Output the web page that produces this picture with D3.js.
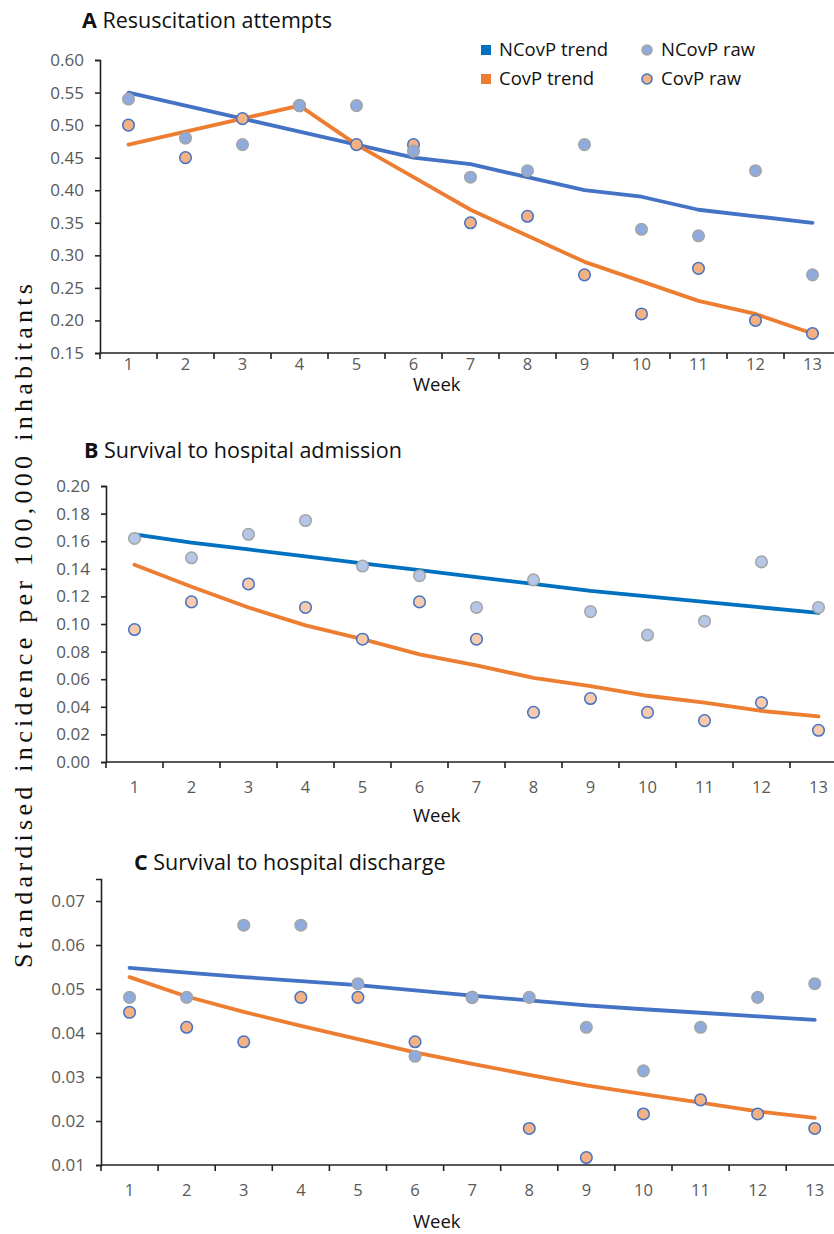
<!DOCTYPE html>
<html>
<head>
<meta charset="utf-8">
<script src="https://cdn.jsdelivr.net/npm/d3@7"></script>
<style>
  body { margin: 0; background: #fff; }
  svg { display: block; }
  text { font-family: "Open Sans", sans-serif; }
</style>
</head>
<body>
<svg id="chart" width="834" height="1234"></svg>
<script>
var weeks = [1, 2, 3, 4, 5, 6, 7, 8, 9, 10, 11, 12, 13];

// A Resuscitation attempts
var aNcovTrend = [0.55, 0.53, 0.51, 0.49, 0.47, 0.45, 0.44, 0.42, 0.40, 0.39, 0.37, 0.36, 0.35];
var aCovTrend  = [0.47, 0.49, 0.51, 0.53, 0.47, 0.42, 0.37, 0.33, 0.29, 0.26, 0.23, 0.21, 0.18];
var aNcovRaw   = [0.54, 0.48, 0.47, 0.53, 0.53, 0.46, 0.42, 0.43, 0.47, 0.34, 0.33, 0.43, 0.27];
var aCovRaw    = [0.50, 0.45, 0.51, 0.53, 0.47, 0.47, 0.35, 0.36, 0.27, 0.21, 0.28, 0.20, 0.18];
var aTicks     = [0.15, 0.20, 0.25, 0.30, 0.35, 0.40, 0.45, 0.50, 0.55, 0.60];

// B Survival to hospital admission
var bNcovTrend = [0.165, 0.159, 0.154, 0.149, 0.144, 0.139, 0.134, 0.129, 0.124, 0.120, 0.116, 0.112, 0.108];
var bCovTrend  = [0.143, 0.127, 0.112, 0.099, 0.089, 0.078, 0.070, 0.061, 0.055, 0.048, 0.043, 0.037, 0.033];
var bNcovRaw   = [0.162, 0.148, 0.165, 0.175, 0.142, 0.135, 0.112, 0.132, 0.109, 0.092, 0.102, 0.145, 0.112];
var bCovRaw    = [0.096, 0.116, 0.129, 0.112, 0.089, 0.116, 0.089, 0.036, 0.046, 0.036, 0.030, 0.043, 0.023];
var bTicks     = [0.00, 0.02, 0.04, 0.06, 0.08, 0.10, 0.12, 0.14, 0.16, 0.18, 0.20];

// C Survival to hospital discharge
var cNcovTrend = [0.0548, 0.0537, 0.0527, 0.0518, 0.0509, 0.0497, 0.0485, 0.0474, 0.0463, 0.0454, 0.0446, 0.0438, 0.0430];
var cCovTrend  = [0.0527, 0.0483, 0.0448, 0.0416, 0.0386, 0.0356, 0.0330, 0.0305, 0.0281, 0.0261, 0.0242, 0.0222, 0.0207];
var cNcovRaw   = [0.0481, 0.0481, 0.0645, 0.0645, 0.0512, 0.0347, 0.0481, 0.0481, 0.0413, 0.0314, 0.0413, 0.0481, 0.0512];
var cCovRaw    = [0.0447, 0.0413, 0.0380, 0.0481, 0.0481, 0.0380, 0.0481, 0.0183, 0.0117, 0.0216, 0.0248, 0.0216, 0.0183];
var cTicks     = [0.01, 0.02, 0.03, 0.04, 0.05, 0.06, 0.07];

var legendItems = ['NCovP trend', 'CovP trend', 'NCovP raw', 'CovP raw'];
var yLabel = 'Standardised incidence per 100,000 inhabitants';

var svg = d3.select('#chart');

var panels = [
  { letter: 'A', title: 'Resuscitation attempts', titleX: 82, titleY: 28,
    left: 100, top: 60, bottom: 353, step: 57, domain: [0.15, 0.60], ticks: aTicks,
    labelY: 370, weekY: 391,
    ncovTrend: aNcovTrend, covTrend: aCovTrend, ncovRaw: aNcovRaw, covRaw: aCovRaw,
    blue: '#4472c4', grayFill: '#8faadc', orangeFill: '#f4b183' },
  { letter: 'B', title: 'Survival to hospital admission', titleX: 84, titleY: 458,
    left: 106, top: 486, bottom: 762, step: 57, domain: [0, 0.20], ticks: bTicks,
    labelY: 793, weekY: 822,
    ncovTrend: bNcovTrend, covTrend: bCovTrend, ncovRaw: bNcovRaw, covRaw: bCovRaw,
    blue: '#0070c0', grayFill: '#b4c7e7', orangeFill: '#f8cbad' },
  { letter: 'C', title: 'Survival to hospital discharge', titleX: 134, titleY: 870,
    left: 101, top: 879, bottom: 1165, step: 57.1, domain: [0.01, 0.075], ticks: cTicks,
    labelY: 1196, weekY: 1228,
    ncovTrend: cNcovTrend, covTrend: cCovTrend, ncovRaw: cNcovRaw, covRaw: cCovRaw,
    blue: '#4472c4', grayFill: '#8faadc', orangeFill: '#f4b183' }
];

panels.forEach(function(p) {
  var x = d3.scaleBand().domain(weeks).range([p.left, p.left + p.step * weeks.length]).padding(0)
    , y = d3.scaleLinear().domain(p.domain).range([p.bottom, p.top])
    , cx = function(d, i) { return x(weeks[i]) + x.bandwidth() / 2; }
    , g = svg.append('g');

  // title
  var t = g.append('text')
    .attr('x', p.titleX)
    .attr('y', p.titleY)
    .style('font-size', '21.5px')
    .style('fill', '#111');
  t.append('tspan').style('font-weight', 'bold').text(p.letter + ' ');
  t.append('tspan').text(p.title);

  // y axis
  var yAxis = d3.axisLeft(y)
    .tickValues(p.ticks)
    .tickSize(5)
    .tickPadding(11)
    .tickFormat(d3.format('.2f'));
  var ya = g.append('g').attr('transform', 'translate(' + p.left + ',0)').call(yAxis);
  ya.select('.domain').attr('stroke', '#222').attr('stroke-width', 1.6);
  ya.selectAll('.tick line').attr('stroke', '#222').attr('stroke-width', 1.6);
  ya.selectAll('.tick text')
    .style('font-size', '17px')
    .style('fill', '#595959')
    .style('font-family', '"Open Sans", sans-serif');

  // x axis (ticks on category boundaries, labels in the middle)
  var xa = g.append('g');
  xa.append('line')
    .attr('x1', p.left).attr('x2', p.left + p.step * weeks.length)
    .attr('y1', p.bottom).attr('y2', p.bottom)
    .attr('stroke', '#222').attr('stroke-width', 1.6);
  xa.selectAll('line.xt')
    .data(weeks.concat([null]))
    .enter().append('line')
      .attr('class', 'xt')
      .attr('x1', function(d) { return d === null ? x.range()[1] : x(d); })
      .attr('x2', function(d) { return d === null ? x.range()[1] : x(d); })
      .attr('y1', p.bottom)
      .attr('y2', p.bottom + 6)
      .attr('stroke', '#222').attr('stroke-width', 1.6);
  xa.selectAll('text.xl')
    .data(weeks)
    .enter().append('text')
      .attr('class', 'xl')
      .attr('x', function(d) { return x(d) + x.bandwidth() / 2; })
      .attr('y', p.labelY)
      .attr('text-anchor', 'middle')
      .style('font-size', '16.5px')
      .style('fill', '#595959')
      .text(function(d) { return d; });
  g.append('text')
    .attr('x', 413)
    .attr('y', p.weekY)
    .style('font-size', '18.5px')
    .style('fill', '#111')
    .text('Week');

  // trend lines
  var line = d3.line()
    .x(cx)
    .y(function(d) { return y(d); });

  g.append('path')
    .datum(p.ncovTrend)
    .attr('d', line)
    .attr('fill', 'none')
    .attr('stroke', p.blue)
    .attr('stroke-width', 3.8)
    .attr('stroke-linejoin', 'round')
    .attr('stroke-linecap', 'round');

  g.append('path')
    .datum(p.covTrend)
    .attr('d', line)
    .attr('fill', 'none')
    .attr('stroke', '#ed7d31')
    .attr('stroke-width', 3.8)
    .attr('stroke-linejoin', 'round')
    .attr('stroke-linecap', 'round');

  // raw points
  g.selectAll('circle.cov')
    .data(p.covRaw)
    .enter().append('circle')
      .attr('class', 'cov')
      .attr('cx', cx)
      .attr('cy', function(d) { return y(d); })
      .attr('r', 5.8)
      .attr('fill', p.orangeFill)
      .attr('stroke', '#4472c4')
      .attr('stroke-width', 1.5);

  g.selectAll('circle.ncov')
    .data(p.ncovRaw)
    .enter().append('circle')
      .attr('class', 'ncov')
      .attr('cx', cx)
      .attr('cy', function(d) { return y(d); })
      .attr('r', 5.8)
      .attr('fill', p.grayFill)
      .attr('stroke', '#a5a5a5')
      .attr('stroke-width', 1.5);
});

// legend
var legend = svg.append('g');
var legendPos = [
  { x: 481, y: 50, kind: 'square', color: '#0070c0' },
  { x: 481, y: 79, kind: 'square', color: '#ed7d31' },
  { x: 647, y: 50, kind: 'circle', fill: '#8faadc', stroke: '#a5a5a5' },
  { x: 647, y: 79, kind: 'circle', fill: '#f4b183', stroke: '#4472c4' }
];
legendPos.forEach(function(l, i) {
  if (l.kind === 'square') {
    legend.append('rect')
      .attr('x', l.x).attr('y', l.y - 5)
      .attr('width', 10).attr('height', 10)
      .attr('fill', l.color);
    legend.append('text')
      .attr('x', l.x + 18).attr('y', l.y + 6)
      .style('font-size', '18.5px').style('fill', '#111')
      .text(legendItems[i]);
  } else {
    legend.append('circle')
      .attr('cx', l.x).attr('cy', l.y)
      .attr('r', 5)
      .attr('fill', l.fill)
      .attr('stroke', l.stroke)
      .attr('stroke-width', 1.6);
    legend.append('text')
      .attr('x', l.x + 14).attr('y', l.y + 6)
      .style('font-size', '18.5px').style('fill', '#111')
      .text(legendItems[i]);
  }
});

// shared y label
svg.append('text')
  .attr('transform', 'translate(32,626) rotate(-90)')
  .attr('text-anchor', 'middle')
  .attr('textLength', 684)
  .attr('lengthAdjust', 'spacing')
  .style('font-family', '"Liberation Serif", "DejaVu Serif", serif')
  .style('font-size', '26px')
  .style('fill', '#111')
  .text(yLabel);
</script>
</body>
</html>
